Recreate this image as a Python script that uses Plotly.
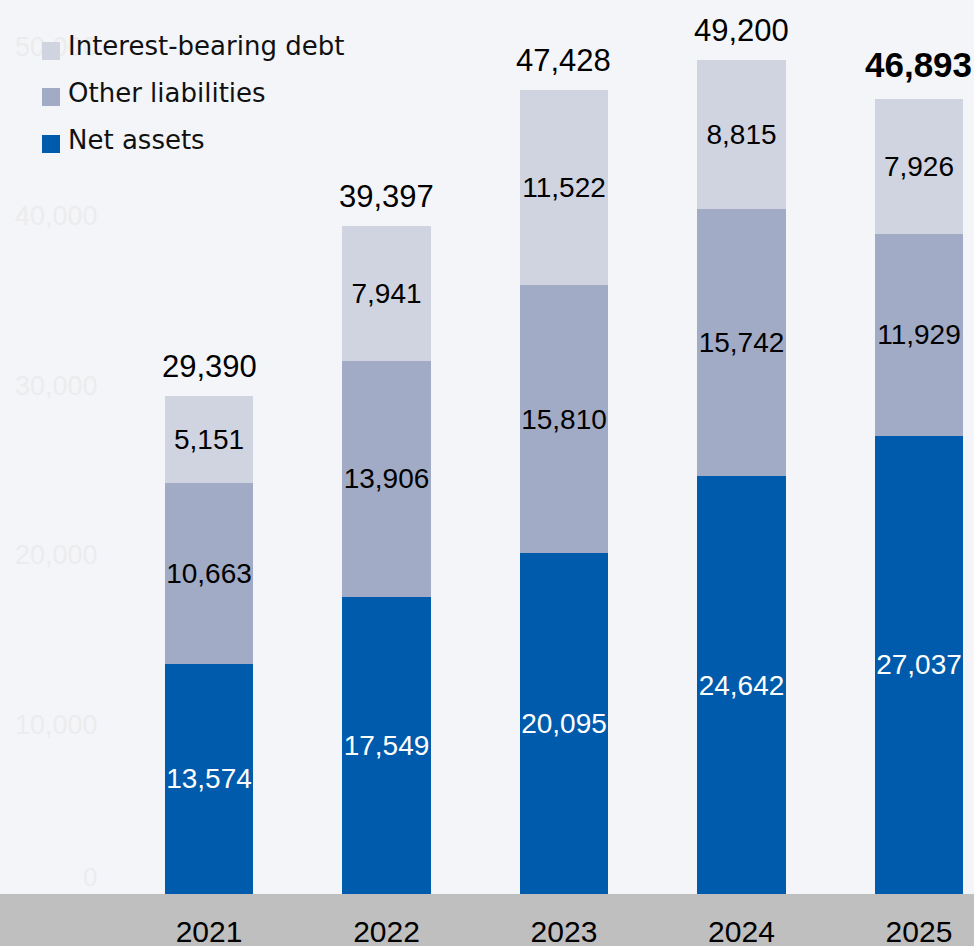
import plotly.graph_objects as go

# Balance sheet composition (units: million yen)
years = ["2021", "2022", "2023", "2024", "2025"]
net_assets = [13574, 17549, 20095, 24642, 27037]
other_liabilities = [10663, 13906, 15810, 15742, 11929]
interest_bearing_debt = [5151, 7941, 11522, 8815, 7926]
totals = [29390, 39397, 47428, 49200, 46893]
y_ticks = [10000, 20000, 30000, 40000, 50000]

series_names = ["Net assets", "Other liabilities", "Interest-bearing debt"]
series_colors = ["#005bac", "#a2abc5", "#d0d4e1"]
label_colors = ["#ffffff", "#000000", "#000000"]

W, H = 974, 946
ML, MR, MT, MB = 105, 0, 0, 52
PW, PH = W - ML - MR, H - MT - MB
FONT = "Liberation Sans, Arial, sans-serif"
LEGEND_FONT = "DejaVu Sans, Verdana, sans-serif"
BG = "#f4f5f9"


def px_x(p):
    return (p - ML) / PW


def px_y(p):
    return (PH + MT - p) / PH


fig = go.Figure()
for name, vals, col, tcol in zip(series_names,
                                 [net_assets, other_liabilities, interest_bearing_debt],
                                 series_colors, label_colors):
    fig.add_trace(go.Bar(
        x=list(range(len(years))), y=vals, name=name, width=0.496,
        marker=dict(color=col, line=dict(width=0)),
        texttemplate="%{y:,}", textposition="inside", insidetextanchor="middle",
        textangle=0,
        textfont=dict(family=FONT, size=28, color=tcol),
        showlegend=False,
    ))

# totals above each stack; latest year emphasised
annotations = []
for i, tot in enumerate(totals):
    last = i == len(totals) - 1
    txt = f"{tot:,}"
    annotations.append(dict(
        x=i, y=tot, xref="x", yref="y", yanchor="bottom", xanchor="center",
        text=f"<b>{txt}</b>" if last else txt, showarrow=False,
        yshift=13 if last else 10,
        font=dict(family=FONT, size=35 if last else 31, color="#000000"),
    ))

# zero label sits on the baseline
annotations.append(dict(
    x=px_x(99), y=0, xref="paper", yref="y", xanchor="right", yanchor="bottom",
    text="0", showarrow=False, font=dict(family=FONT, size=26, color="#ececec"),
))

shapes = [dict(
    type="rect", xref="paper", yref="paper", layer="below",
    x0=px_x(-5), x1=px_x(W + 5), y0=px_y(H + 5), y1=0,
    fillcolor="#bfbfbf", line=dict(width=0),
)]

# legend: square swatch + label, top to bottom
legend_rows = [("Interest-bearing debt", series_colors[2], 51, 46),
               ("Other liabilities", series_colors[1], 97, 93),
               ("Net assets", series_colors[0], 144, 140)]
for label, col, sq_c, txt_c in legend_rows:
    shapes.append(dict(
        type="rect", xref="paper", yref="paper", layer="above",
        x0=px_x(42), x1=px_x(60), y0=px_y(sq_c + 9), y1=px_y(sq_c - 9),
        fillcolor=col, line=dict(width=0),
    ))
    annotations.append(dict(
        x=px_x(66), y=px_y(txt_c), xref="paper", yref="paper",
        xanchor="left", yanchor="middle", text=label, showarrow=False,
        font=dict(family=LEGEND_FONT, size=26, color="#111111"),
    ))

fig.update_layout(
    width=W, height=H, barmode="stack",
    margin=dict(l=ML, r=MR, t=MT, b=MB, pad=0, autoexpand=False),
    paper_bgcolor=BG, plot_bgcolor=BG,
    uniformtext=dict(minsize=28, mode="show"),
    annotations=annotations, shapes=shapes,
    xaxis=dict(
        range=[-0.586, 4.310], automargin=False,
        tickvals=list(range(len(years))), ticktext=years,
        showgrid=False, zeroline=False, showline=False,
        ticks="outside", ticklen=11, tickcolor="rgba(0,0,0,0)",
        tickfont=dict(family=FONT, size=30, color="#000000"),
    ),
    yaxis=dict(
        range=[0, PH / 0.01695], tickvals=y_ticks, automargin=False,
        ticktext=[f"{v:,}" for v in y_ticks],
        showgrid=False, zeroline=False, showline=False,
        ticks="outside", ticklen=1, tickcolor="rgba(0,0,0,0)",
        tickfont=dict(family=FONT, size=27, color="#ececec"),
    ),
)

fig.write_html("out.html")
